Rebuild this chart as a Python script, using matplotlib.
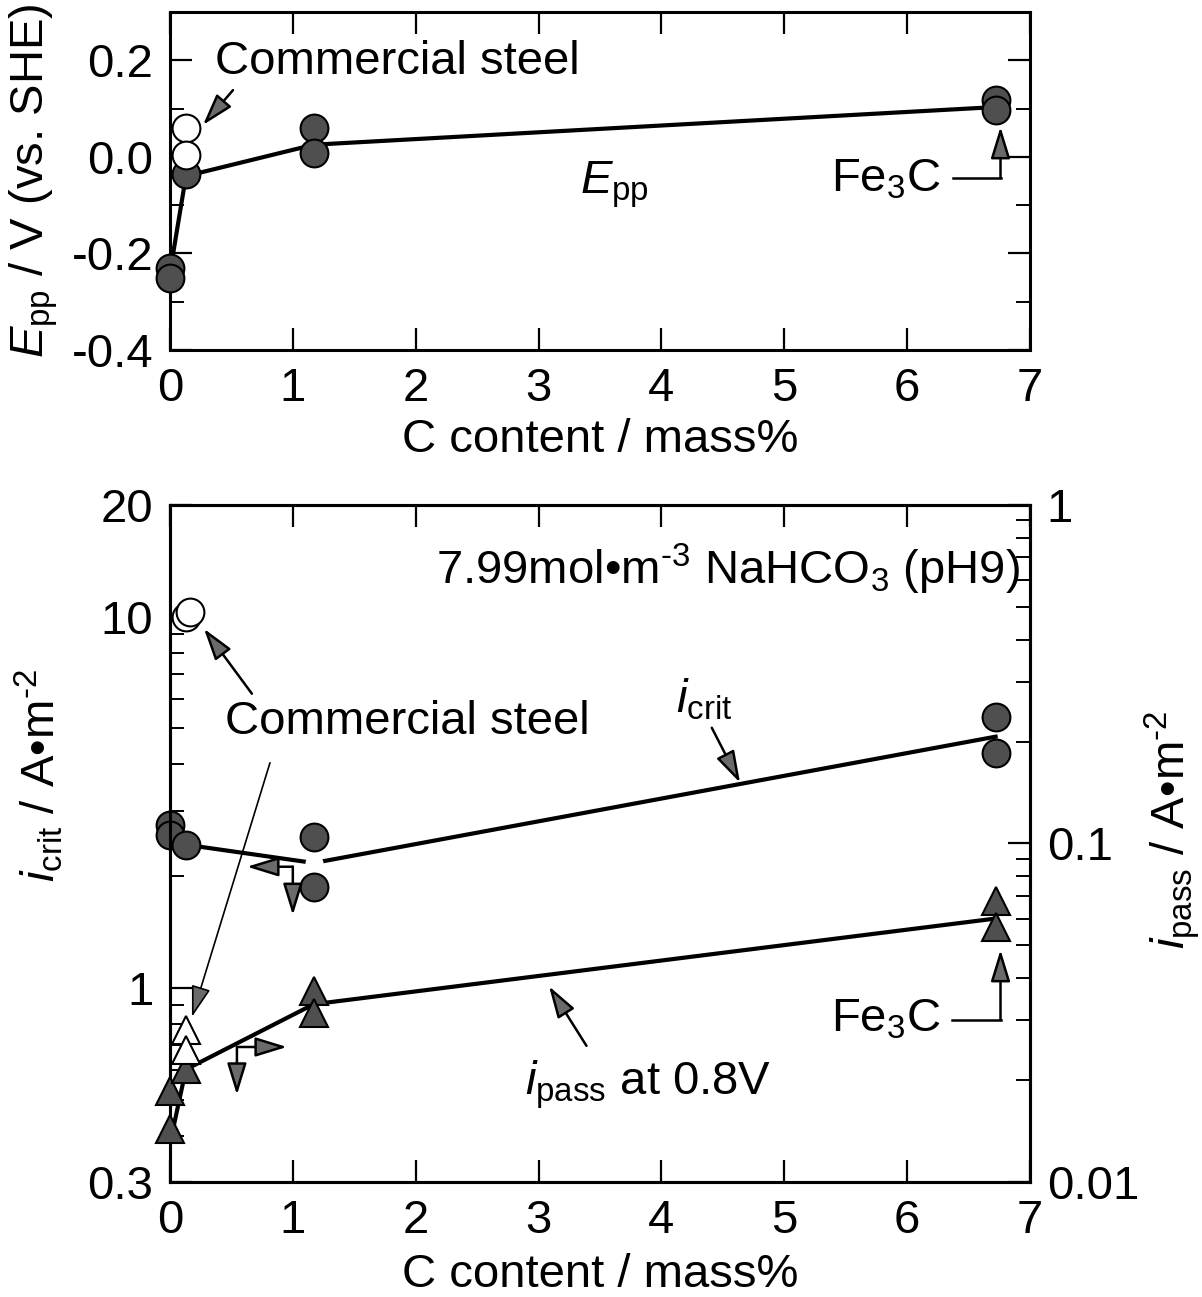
import matplotlib
matplotlib.use('Agg')
import matplotlib.pyplot as plt
from matplotlib.ticker import (FixedLocator, FixedFormatter, LogLocator,
                               NullFormatter, MultipleLocator)

plt.rcParams['font.family'] = ['Liberation Sans', 'DejaVu Sans']
plt.rcParams['mathtext.fontset'] = 'custom'
plt.rcParams['mathtext.rm'] = 'Liberation Sans'
plt.rcParams['mathtext.it'] = 'Liberation Sans:italic'
plt.rcParams['mathtext.bf'] = 'Liberation Sans:bold'

FS = 34
FILL = '#4f4f4f'
HEAD = '#6a6a6a'
HY = '\u2010'  # plain hyphen for the superscript exponents

# --- E_pp vs C content ---
epp_x = [0.0, 0.0, 0.13, 1.17, 1.17, 6.72, 6.72]
epp_y = [-0.23, -0.25, -0.035, 0.06, 0.008, 0.118, 0.097]
epp_com_x = [0.13, 0.13]
epp_com_y = [0.06, 0.004]
epp_fit_x = [0.0, 0.13, 1.17, 6.72]
epp_fit_y = [-0.24, -0.04, 0.025, 0.103]

# --- i_crit (left axis) ---
icrit_x = [0.0, 0.0, 0.13, 1.17, 1.17, 6.72, 6.72]
icrit_y = [2.75, 2.58, 2.43, 2.55, 1.87, 5.38, 4.30]
icrit_com_x = [0.13, 0.16]
icrit_com_y = [10.0, 10.3]
icrit_fit_x = [0.13, 1.17, 6.72]
icrit_fit_y = [2.43, 2.17, 4.75]

# --- i_pass at 0.8 V (right axis) ---
ipass_x = [0.0, 0.0, 0.13, 1.17, 1.17, 6.72, 6.72]
ipass_y = [0.0186, 0.0143, 0.0216, 0.0367, 0.0316, 0.0676, 0.0567]
ipass_com_x = [0.13, 0.13]
ipass_com_y = [0.0281, 0.0245]
ipass_fit_x = [0.0, 0.13, 1.17, 6.72]
ipass_fit_y = [0.013, 0.0215, 0.0335, 0.060]

x_ticks = [0, 1, 2, 3, 4, 5, 6, 7]


def arrow(ax, start, tip, lw=1.8):
    ax.annotate('', xy=tip, xytext=start,
                arrowprops=dict(arrowstyle='-|>,head_length=0.65,head_width=0.2',
                                mutation_scale=30, lw=lw, facecolor=HEAD,
                                edgecolor='black', shrinkA=0, shrinkB=0),
                zorder=6)


def style_axis(ax):
    for sp in ax.spines.values():
        sp.set_linewidth(2.2)
    ax.tick_params(which='major', direction='in', length=16, width=1.6,
                   labelsize=FS, pad=12)
    ax.tick_params(which='minor', direction='in', length=10, width=1.4)


def markers(ax, x, y, shape, face):
    ax.plot(x, y, shape, ms=20, mfc=face, mec='black', mew=1.5,
            zorder=3, clip_on=False)


fig = plt.figure(figsize=(12.02, 12.97), dpi=100)
ax_top = fig.add_axes([0.1414, 0.7302, 0.7155, 0.2606])
ax_bot = fig.add_axes([0.1414, 0.0887, 0.7155, 0.5220])

# ---------------- top panel ----------------
ax = ax_top
ax.plot(epp_fit_x, epp_fit_y, color='black', lw=3, zorder=2)
markers(ax, epp_x, epp_y, 'o', FILL)
markers(ax, epp_com_x, epp_com_y, 'o', 'white')
ax.set_xlim(0, 7)
ax.set_ylim(-0.4, 0.3)
ax.set_xticks(x_ticks)
ax.yaxis.set_major_locator(FixedLocator([-0.4, -0.2, 0.0, 0.2]))
ax.yaxis.set_major_formatter(FixedFormatter(['-0.4', '-0.2', '0.0', '0.2']))
ax.yaxis.set_minor_locator(MultipleLocator(0.1))
style_axis(ax)
ax.tick_params(which='both', top=True, right=True)
ax.set_xlabel('C content / mass%', fontsize=FS)
ax.set_ylabel(r'$\mathit{E}_{\mathrm{pp}}$ / V (vs. SHE)', fontsize=FS)
ax.xaxis.set_label_coords(0.5, -0.2)
ax.yaxis.set_label_coords(-0.128, 0.5)

ax.text(0.366, 0.196, 'Commercial steel', fontsize=FS, va='center', ha='left')
arrow(ax, (0.513, 0.138), (0.269, 0.066))
ax.text(3.62, -0.058, r'$\mathit{E}_{\mathrm{pp}}$', fontsize=FS, ha='center', va='center')
ax.text(6.27, -0.048, r'Fe$_3$C', fontsize=FS, ha='right', va='center')
ax.plot([6.37, 6.76], [-0.044, -0.044], color='black', lw=1.8)
arrow(ax, (6.76, -0.044), (6.76, 0.062))

# ---------------- bottom panel ----------------
ax = ax_bot
ax2 = ax.twinx()
ax2.set_position(ax.get_position())

ax.set_yscale('log')
ax.set_xlim(0, 7)
ax.set_ylim(0.3, 20)
ax.plot(icrit_fit_x, icrit_fit_y, color='black', lw=3, zorder=2)
# small break in the i_crit line between the two 1.17 % points
ax.plot([icrit_fit_x[1]], [icrit_fit_y[1]], 'o', ms=13, mfc='white', mec='none', zorder=2.5)
markers(ax, icrit_x, icrit_y, 'o', FILL)
markers(ax, icrit_com_x, icrit_com_y, 'o', 'white')

ax2.set_yscale('log')
ax2.set_ylim(0.01, 1)
ax2.plot(ipass_fit_x, ipass_fit_y, color='black', lw=3, zorder=2)
markers(ax2, ipass_x, ipass_y, '^', FILL)
markers(ax2, ipass_com_x, ipass_com_y, '^', 'white')

ax.set_xticks(x_ticks)
ax.yaxis.set_major_locator(FixedLocator([0.3, 1, 10, 20]))
ax.yaxis.set_major_formatter(FixedFormatter(['0.3', '1', '10', '20']))
ax.yaxis.set_minor_locator(LogLocator(base=10, subs=range(2, 10)))
ax.yaxis.set_minor_formatter(NullFormatter())
style_axis(ax)
ax.tick_params(which='both', top=True, right=False)

ax2.yaxis.set_major_locator(FixedLocator([0.01, 0.1, 1]))
ax2.yaxis.set_major_formatter(FixedFormatter(['0.01', '0.1', '1']))
ax2.yaxis.set_minor_locator(LogLocator(base=10, subs=range(2, 10)))
ax2.yaxis.set_minor_formatter(NullFormatter())
style_axis(ax2)
ax2.tick_params(which='both', left=False, right=True)

ax.set_xlabel('C content / mass%', fontsize=FS)
ax.set_ylabel(r'$\mathit{i}_{\mathrm{crit}}$ / A•m$^{%s2}$' % HY, fontsize=FS)
ax2.set_ylabel(r'$\mathit{i}_{\mathrm{pass}}$ / A•m$^{%s2}$' % HY, fontsize=FS)
ax.xaxis.set_label_coords(0.5, -0.105)
ax.yaxis.set_label_coords(-0.122, 0.6)
ax2.yaxis.set_label_coords(1.131, 0.52)

ax.text(6.92, 13.4, r'7.99mol•m$^{%s3}$ NaHCO$_3$ (pH9)' % HY, fontsize=FS,
        ha='right', va='center')
ax.text(0.45, 5.2, 'Commercial steel', fontsize=FS, ha='left', va='center')
arrow(ax, (0.667, 6.2), (0.277, 9.28))
arrow(ax, (0.814, 4.04), (0.179, 0.835), lw=1.2)

# left / down pointers for the i_crit axis
arrow(ax, (1.0, 2.12), (0.627, 2.12))
arrow(ax, (1.0, 2.12), (1.0, 1.57))
# right / down pointers for the i_pass axis
arrow(ax, (0.545, 0.693), (0.545, 0.515))
arrow(ax, (0.545, 0.693), (0.952, 0.693))

ax.text(4.35, 5.98, r'$\mathit{i}_{\mathrm{crit}}$', fontsize=FS, ha='center', va='center')
arrow(ax, (4.41, 5.02), (4.64, 3.57))
ax.text(2.89, 0.548, r'$\mathit{i}_{\mathrm{pass}}$ at 0.8V', fontsize=FS,
        ha='left', va='center')
arrow(ax, (3.39, 0.698), (3.085, 1.01))

ax.text(6.27, 0.82, r'Fe$_3$C', fontsize=FS, ha='right', va='center')
ax.plot([6.365, 6.76], [0.82, 0.82], color='black', lw=1.8)
arrow(ax, (6.76, 0.82), (6.76, 1.266))

fig.savefig('out.png', dpi=100)
